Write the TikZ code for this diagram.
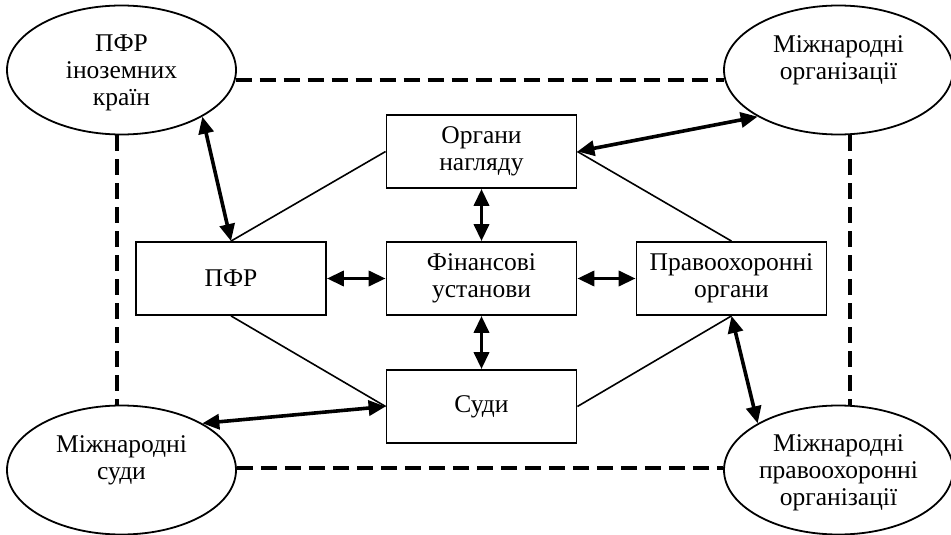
\documentclass[tikz,border=0pt]{standalone}
\usepackage{fontspec}
\setmainfont{Liberation Serif}
\usetikzlibrary{shapes.geometric,arrows.meta}
\begin{document}
\begin{tikzpicture}[x=1pt,y=-1pt,
  txt/.style={font=\fontsize{25.5}{27}\selectfont,align=center},
  box/.style={txt,draw,line width=1.8pt,minimum width=190pt,minimum height=73pt,inner sep=0pt},
  ell/.style={txt,draw,ellipse,line width=1.8pt,minimum width=229pt,minimum height=129pt,inner sep=0pt},
  up/.style={text depth=24pt},
  down/.style={text depth=-4.5pt},
  dbl/.style={{Triangle[length=17pt,width=15pt]}-{Triangle[length=17pt,width=15pt]},line width=3.6pt},
  thinline/.style={line width=1.6pt},
  dsh/.style={line width=3.2pt,dash pattern=on 16pt off 8pt}]
\useasboundingbox (0,0) rectangle (951,535);

\node[box] (pfr) at (231,278.5) {ПФР};
\node[box] (fin) at (481.5,278.5) {Фінансові\\установи};
\node[box] (pravo) at (731.5,278.5) {Правоохоронні\\органи};
\node[box] (nag) at (481.5,151.5) {Органи\\нагляду};
\node[box] (sud) at (481.5,406.5) {Суди};

\node[ell,down] (tl) at (121.5,70) {ПФР\\іноземних\\країн};
\node[ell,up] (tr) at (838.5,70) {Міжнародні\\організації};
\node[ell,up] (bl) at (121.5,470) {Міжнародні\\суди};
\node[ell,down] (br) at (838.5,470) {Міжнародні\\правоохоронні\\організації};

\draw[dsh] (tl.-5) -- (tr.185);
\draw[dsh] (bl.1) -- (br.179);
\draw[dsh] (tl.-94) -- (bl.94);
\draw[dsh] (tr.-80) -- (br.80);

\draw[thinline] (pfr.north) -- (nag.west);
\draw[thinline] (nag.east) -- (pravo.north);
\draw[thinline] (pfr.south) -- (sud.west);
\draw[thinline] (sud.east) -- (pravo.south);

\draw[dbl] (tl.-30) -- (pfr.north);
\draw[dbl] (nag.east) -- (tr.210);
\draw[dbl] (sud.west) -- (bl.30);
\draw[dbl] (pravo.south) -- (br.150);
\draw[dbl] (nag.south) -- (fin.north);
\draw[dbl] (fin.south) -- (sud.north);
\draw[dbl] (pfr.east) -- (fin.west);
\draw[dbl] (fin.east) -- (pravo.west);
\end{tikzpicture}
\end{document}
